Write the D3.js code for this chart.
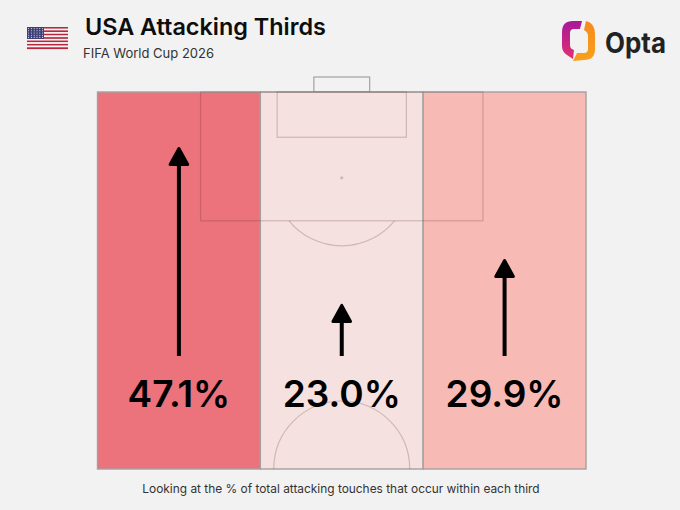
<!DOCTYPE html>
<html>
<head>
<meta charset="utf-8">
<script src="https://cdn.jsdelivr.net/npm/d3@7"></script>
<style>
  html, body { margin: 0; padding: 0; background: #f2f2f2; }
  text { font-family: "Inter", "Noto Sans", sans-serif; }
</style>
</head>
<body>
<div id="chart"></div>
<script>
// Chart data
const thirds = ["Left", "Centre", "Right"];
const shares = [47.1, 23.0, 29.9];
const fills = ["#ec727c", "#f5e1df", "#f7bab5"];

const width = 680;
const height = 510;
const pitch = {left: 97.5, right: 586, top: 92, bottom: 469};

const svg = d3.select("#chart")
  .append("svg")
  .attr("width", width)
  .attr("height", height)
  .style("display", "block");

svg.append("rect")
  .attr("width", width)
  .attr("height", height)
  .attr("fill", "#f2f2f2");

// x is split into thirds, arrow length follows the share
const xScale = d3.scaleBand()
  .domain(thirds)
  .range([pitch.left, pitch.right]);

const arrowScale = d3.scaleLinear()
  .domain([15, 47.1])
  .range([356, 147]);

// Pitch units are metres-ish, scaled to the drawn pitch
const mx = d3.scaleLinear().domain([-34.6, 34.6]).range([pitch.left, pitch.right]);
const my = d3.scaleLinear().domain([0, 48.3]).range([pitch.top, pitch.bottom]);

// Header
svg.append("text")
  .attr("x", 85).attr("y", 35)
  .attr("font-size", 23.4).attr("font-weight", 600)
  .attr("fill", "#0d0d0d")
  .text("USA Attacking Thirds");

svg.append("text")
  .attr("x", 83).attr("y", 58)
  .attr("font-size", 13).attr("fill", "#333")
  .text("FIFA World Cup 2026");

// Flag
const flag = svg.append("g").attr("transform", "translate(27,27)");
d3.range(13).forEach(i => {
  flag.append("rect")
    .attr("x", 0).attr("y", i * 22 / 13)
    .attr("width", 41).attr("height", 22 / 13 + 0.1)
    .attr("fill", i % 2 ? "#f6f3f3" : "#b5283f");
});
flag.append("rect").attr("width", 17).attr("height", 12).attr("fill", "#3f3f78");
d3.range(5).forEach(r => d3.range(6).forEach(c => {
  flag.append("circle")
    .attr("cx", 1.6 + c * 2.8).attr("cy", 1.6 + r * 2.2)
    .attr("r", 0.55).attr("fill", "#e4e4ee");
}));

// Opta logo
const defs = svg.append("defs");
const grad1 = defs.append("linearGradient").attr("id", "optaL").attr("x1", 0).attr("y1", 0).attr("x2", 0).attr("y2", 1);
grad1.append("stop").attr("offset", "0%").attr("stop-color", "#a8189a");
grad1.append("stop").attr("offset", "100%").attr("stop-color", "#e0336e");
const grad2 = defs.append("linearGradient").attr("id", "optaR").attr("x1", 0).attr("y1", 0).attr("x2", 0).attr("y2", 1);
grad2.append("stop").attr("offset", "0%").attr("stop-color", "#f58a1f");
grad2.append("stop").attr("offset", "100%").attr("stop-color", "#f9a01b");

svg.append("path")
  .attr("fill", "url(#optaL)")
  .attr("d", "M582,21 L573,21 Q562,21 562,32 L562,46 Q562,52 567,55 L573,59 L574,50 Q570,49 570,45 L570,33 Q570,29 574,29 L580,29 Z");
svg.append("path")
  .attr("fill", "url(#optaR)")
  .attr("d", "M586,21 Q595,23 595,34 L595,49 Q595,60 584,60 L573,61 L577,53 L584,53 Q588,53 588,49 L588,36 Q588,32 584,30 Z");

svg.append("text")
  .attr("x", 605).attr("y", 53)
  .attr("font-size", 28).attr("font-weight", 700)
  .attr("fill", "#222")
  .attr("textLength", 61)
  .attr("lengthAdjust", "spacingAndGlyphs")
  .text("Opta");

// Goal sits outside the pitch
svg.append("rect")
  .attr("x", mx(-3.95)).attr("y", 77)
  .attr("width", mx(3.95) - mx(-3.95)).attr("height", pitch.top - 77)
  .attr("fill", "none").attr("stroke", "#a8a8a8").attr("stroke-width", 1.3);

// Third bars
svg.selectAll(".third")
  .data(thirds)
  .enter()
  .append("rect")
    .attr("class", "third")
    .attr("x", d => xScale(d))
    .attr("y", pitch.top)
    .attr("width", xScale.bandwidth())
    .attr("height", pitch.bottom - pitch.top)
    .attr("fill", (d, i) => fills[i])
    .attr("stroke", "#a5a0a0")
    .attr("stroke-width", 1.4);

// Pitch markings
const lineColor = "rgba(90,50,50,0.24)";
const marks = svg.append("g").attr("fill", "none").attr("stroke", lineColor).attr("stroke-width", 1.2);

marks.append("rect")
  .attr("x", mx(-20)).attr("y", my(0))
  .attr("width", mx(20) - mx(-20)).attr("height", my(16.5) - my(0));

marks.append("rect")
  .attr("x", mx(-9.15)).attr("y", my(0))
  .attr("width", mx(9.15) - mx(-9.15)).attr("height", my(5.8) - my(0));

marks.append("circle")
  .attr("cx", mx(0)).attr("cy", my(11))
  .attr("r", 1.6).attr("fill", lineColor).attr("stroke", "none");

// Penalty arc and centre circle
const arcR = 68;
const dArc = d3.arc().innerRadius(arcR).outerRadius(arcR);
const cutoff = Math.acos((my(16.5) - my(11)) / arcR);
marks.append("path")
  .attr("transform", `translate(${mx(0)},${my(11)})`)
  .attr("d", dArc({startAngle: Math.PI - cutoff, endAngle: Math.PI + cutoff}));
marks.append("path")
  .attr("transform", `translate(${mx(0)},${pitch.bottom})`)
  .attr("d", dArc({startAngle: -Math.PI / 2, endAngle: Math.PI / 2}));

// Arrows
const arrowX = d => xScale(d) + xScale.bandwidth() / 2;
svg.selectAll(".shaft")
  .data(thirds)
  .enter()
  .append("line")
    .attr("class", "shaft")
    .attr("x1", arrowX).attr("x2", arrowX)
    .attr("y1", arrowScale(15))
    .attr("y2", (d, i) => arrowScale(shares[i]) + 10)
    .attr("stroke", "#000")
    .attr("stroke-width", 4);

svg.selectAll(".head")
  .data(thirds)
  .enter()
  .append("path")
    .attr("class", "head")
    .attr("transform", (d, i) => `translate(${arrowX(d)},${arrowScale(shares[i])})`)
    .attr("stroke", "#000")
    .attr("stroke-width", 3)
    .attr("stroke-linejoin", "round")
    .attr("d", "M0,1.5 L8.8,17.5 L-8.8,17.5 Z");

// Share labels
svg.selectAll(".share")
  .data(thirds)
  .enter()
  .append("text")
    .attr("class", "share")
    .attr("x", arrowX)
    .attr("y", 407)
    .attr("text-anchor", "middle")
    .attr("font-size", 37)
    .attr("font-weight", 600)
    .attr("fill", "#000")
    .text((d, i) => shares[i].toFixed(1) + "%");

// Footnote
svg.append("text")
  .attr("x", 341).attr("y", 493)
  .attr("text-anchor", "middle")
  .attr("font-size", 11.9)
  .attr("fill", "#333")
  .text("Looking at the % of total attacking touches that occur within each third");
</script>
</body>
</html>
